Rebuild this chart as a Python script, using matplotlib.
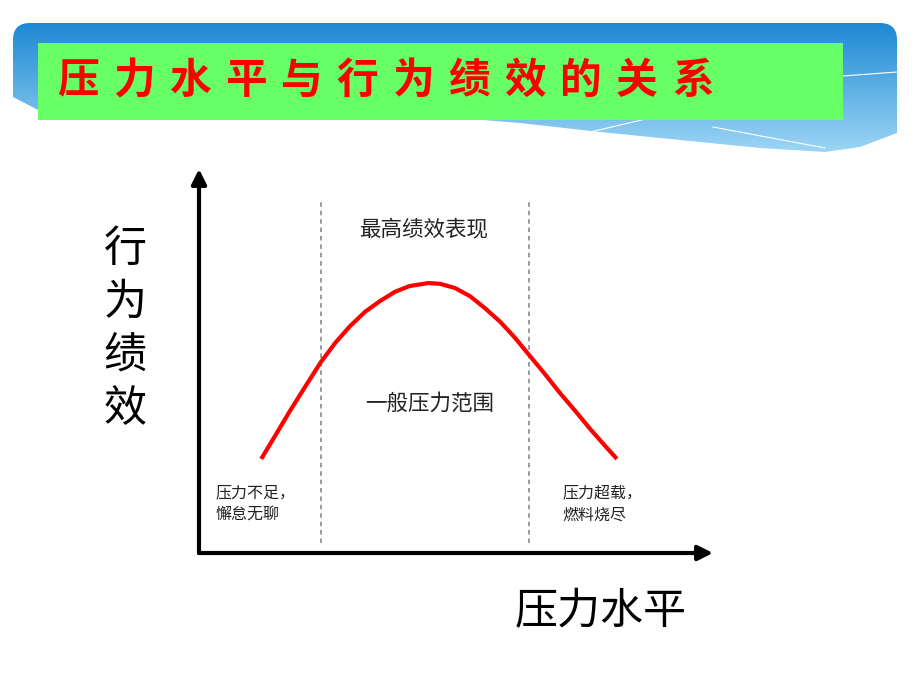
import matplotlib
matplotlib.use("Agg")
import numpy as np
import matplotlib.pyplot as plt
from matplotlib.path import Path
from matplotlib.patches import PathPatch, Rectangle

plt.rcParams['font.family'] = ['Noto Sans CJK SC', 'DejaVu Sans']

# chart data (pressure level vs. performance, arbitrary 0-10 units)
pressure = [1.21, 1.48, 1.77, 2.06, 2.37, 2.65, 2.94, 3.23, 3.52, 3.81, 4.09, 4.46, 4.69,
            4.98, 5.27, 5.56, 5.86, 6.15, 6.42, 6.73, 7.02, 7.32, 7.61, 7.90, 8.13]
performance = [2.45, 3.05, 3.70, 4.32, 4.97, 5.47, 5.91, 6.28, 6.56, 6.80, 6.95, 7.03, 7.01,
               6.90, 6.69, 6.38, 6.02, 5.60, 5.16, 4.66, 4.17, 3.70, 3.23, 2.79, 2.45]
zone_bounds = [2.37, 6.42]

title = "压力水平与行为绩效的关系"
y_label = "行为绩效"
x_label = "压力水平"
top_note = "最高绩效表现"
mid_note = "一般压力范围"
low_note = ["压力不足，", "懈怠无聊"]
high_note = ["压力超载，", "燃料烧尽"]

W, H = 920, 690
fig = plt.figure(figsize=(W / 100, H / 100), dpi=100)

# background layer in pixel coordinates for the slide decoration
bg = fig.add_axes([0, 0, 1, 1])
bg.set_xlim(0, W)
bg.set_ylim(H, 0)
bg.axis('off')

# blue wave banner behind the title
verts = [(13, 40), (13, 23), (30, 23), (880, 23), (897, 23), (897, 40),
         (897, 133), (860, 147), (825, 152), (760, 148), (680, 140),
         (600, 132), (520, 123), (483, 120), (38, 110), (13, 97), (13, 40)]
codes = [Path.MOVETO, Path.CURVE3, Path.CURVE3, Path.LINETO, Path.CURVE3, Path.CURVE3,
         Path.LINETO, Path.LINETO, Path.LINETO, Path.LINETO, Path.LINETO,
         Path.LINETO, Path.LINETO, Path.LINETO, Path.LINETO, Path.LINETO, Path.CLOSEPOLY]
band = PathPatch(Path(verts, codes), facecolor='none', edgecolor='none')
bg.add_patch(band)
grad = np.linspace(0, 1, 256)[:, None]
top_c = np.array([28, 136, 212]) / 255
bot_c = np.array([160, 215, 246]) / 255
img = top_c[None, None, :] * (1 - grad[..., None]) + bot_c[None, None, :] * grad[..., None]
img = np.repeat(img, 2, axis=1)
im = bg.imshow(img, extent=(13, 897, 155, 23), aspect='auto', zorder=1)
im.set_clip_path(band)
bg.plot([569, 650], [137, 118], color='white', lw=0.8, zorder=2)
bg.plot([713, 825], [127, 148], color='white', lw=0.8, zorder=2)
bg.plot([843, 897], [76, 72], color='white', lw=0.8, zorder=2)

# green title box
bg.add_patch(Rectangle((38, 43), 805, 77, facecolor='#66FF66', edgecolor='none', zorder=3))
for i, ch in enumerate(title):
    bg.text(78 + 55.9 * i, 81, ch, color='#FF0000', fontsize=30, fontweight='bold',
            ha='center', va='center', zorder=4)

# axis titles
for i, ch in enumerate(y_label):
    bg.text(125, 250 + 53 * i, ch, fontsize=31, ha='center', va='center', color='black')
bg.text(601, 612, x_label, fontsize=31, ha='center', va='center', color='black')

# chart axes
ax = fig.add_axes([199 / W, (H - 553) / H, 514 / W, 384 / H])
ax.set_xlim(0, 10)
ax.set_ylim(0, 10)
ax.axis('off')

arrow = dict(arrowstyle='-|>', color='black', lw=3, mutation_scale=22, shrinkA=0, shrinkB=0)
ax.annotate('', xy=(10, 0), xytext=(0, 0), arrowprops=arrow, annotation_clip=False)
ax.annotate('', xy=(0, 10), xytext=(0, 0), arrowprops=arrow, annotation_clip=False)

for xb in zone_bounds:
    ax.plot([xb, xb], [0.26, 9.22], color='#808080', lw=1.1, linestyle=(0, (3, 2.5)))

ax.plot(pressure, performance, color='#FF0000', lw=3, solid_capstyle='butt',
        solid_joinstyle='round', clip_on=False)

ax.text(4.36, 8.44, top_note, fontsize=15.5, ha='center', va='center', color='#222222')
ax.text(4.49, 3.88, mid_note, fontsize=15.5, ha='center', va='center', color='#222222')
for j, line in enumerate(low_note):
    ax.text(0.33, 1.58 - 0.6 * j, line, fontsize=11.5, ha='left', va='center', color='#222222')
for j, line in enumerate(high_note):
    ax.text(7.07, 1.58 - 0.6 * j, line, fontsize=11.5, ha='left', va='center', color='#222222')

fig.savefig('out.png', dpi=100)
